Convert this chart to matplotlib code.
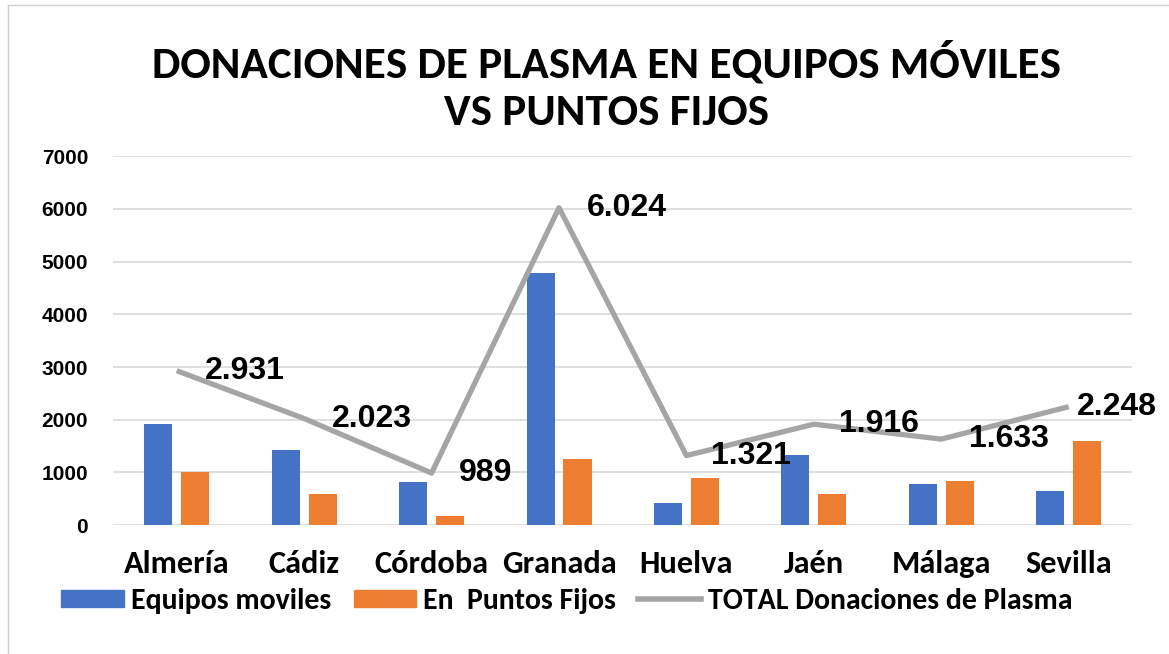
import matplotlib.pyplot as plt
import numpy as np
from matplotlib.patches import Patch
from matplotlib.lines import Line2D

provincias = ['Almería', 'Cádiz', 'Córdoba', 'Granada', 'Huelva', 'Jaén', 'Málaga', 'Sevilla']
equipos_moviles = [1915, 1425, 815, 4777, 430, 1328, 788, 650]
puntos_fijos = [1016, 598, 174, 1247, 891, 588, 845, 1598]
total = [2931, 2023, 989, 6024, 1321, 1916, 1633, 2248]
total_labels = ['2.931', '2.023', '989', '6.024', '1.321', '1.916', '1.633', '2.248']

AZUL = '#4472C4'
NARANJA = '#ED7D31'
GRIS = '#A5A5A5'
arial = ['Liberation Sans', 'DejaVu Sans']
calibri = ['Carlito', 'DejaVu Sans']

fig = plt.figure(figsize=(11.69, 6.54), dpi=100)
ax = fig.add_axes([0.0967, 0.197, 0.872, 0.564])

x = np.arange(len(provincias))
w = 0.22
ax.bar(x - 0.145, equipos_moviles, width=w, color=AZUL, zorder=2)
ax.bar(x + 0.145, puntos_fijos, width=w, color=NARANJA, zorder=2)
ax.plot(x, total, color=GRIS, linewidth=3.8, zorder=3, solid_capstyle='butt')

# la última etiqueta queda más pegada al punto (como en Excel, para no salirse)
desplaz = [20, 20, 20, 20, 18, 18, 20, 6]
for xi, yi, lab, dx in zip(x, total, total_labels, desplaz):
    ax.annotate(lab, (xi, yi), xytext=(dx, 0), textcoords='offset points',
                ha='left', va='center', fontsize=23, fontweight='bold',
                family=arial, color='black', zorder=4)

ax.set_xlim(-0.5, len(provincias) - 0.5)
ax.set_ylim(0, 7000)
ax.yaxis.set_major_locator(plt.MultipleLocator(1000))
ax.grid(axis='y', color='#D9D9D9', linewidth=1.2, zorder=0)
for s in ax.spines.values():
    s.set_visible(False)
ax.tick_params(axis='both', length=0)
ax.tick_params(axis='y', pad=18)
ax.tick_params(axis='x', pad=18)
ax.set_xticks(x)
ax.set_xticklabels(provincias, fontsize=23.3, fontweight='bold', family=calibri)
for t in ax.get_yticklabels():
    t.set_fontsize(15)
    t.set_fontweight('bold')
    t.set_family(arial)

fig.text(0.519, 0.868, 'DONACIONES DE PLASMA EN EQUIPOS MÓVILES\nVS PUNTOS FIJOS',
         ha='center', va='center', fontsize=32.5, fontweight='bold',
         family=calibri, linespacing=1.32)

handles = [Patch(color=AZUL), Patch(color=NARANJA),
           Line2D([0], [0], color=GRIS, linewidth=4)]
fig.legend(handles, ['Equipos moviles', 'En  Puntos Fijos', 'TOTAL Donaciones de Plasma'],
           loc='center', bbox_to_anchor=(0.485, 0.081), ncol=3, frameon=False,
           prop={'family': calibri, 'weight': 'bold', 'size': 21.5},
           handlelength=2.1, handleheight=0.5, handletextpad=0.23, columnspacing=0.75)

# marco del gráfico
fig.add_artist(Line2D([0.007, 0.007], [0, 0.992], transform=fig.transFigure, color='#D0D0D0', linewidth=1))
fig.add_artist(Line2D([0.007, 1], [0.992, 0.992], transform=fig.transFigure, color='#D0D0D0', linewidth=1))

fig.savefig('out.png', dpi=100)
